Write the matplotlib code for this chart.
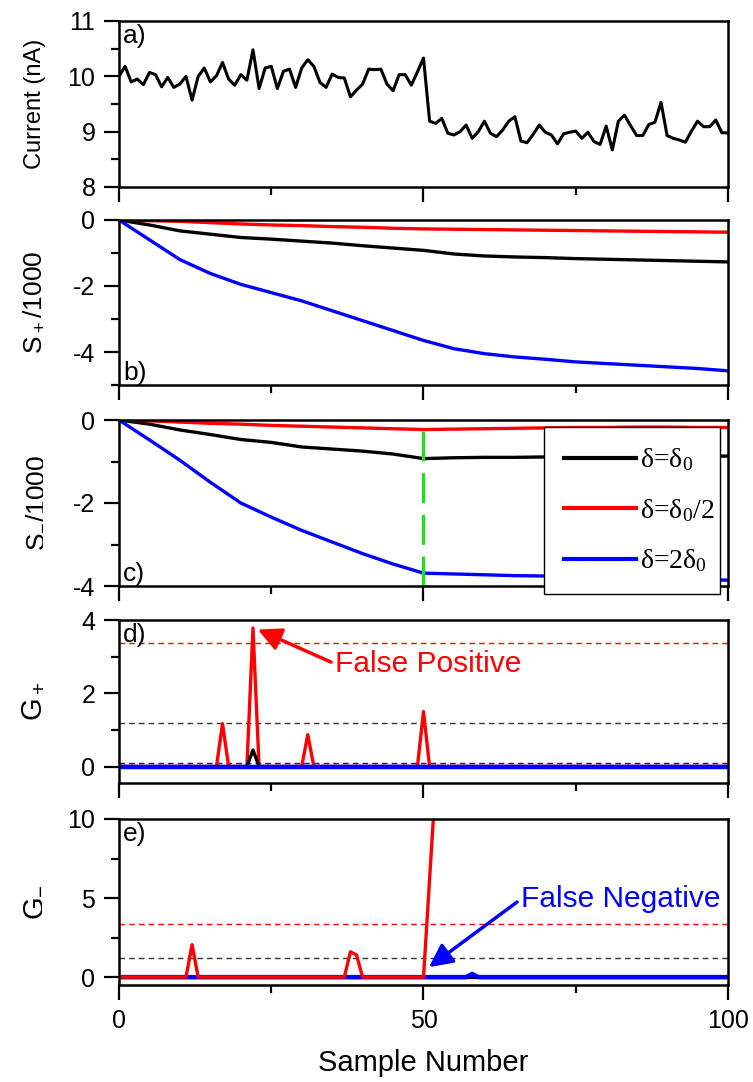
import matplotlib
matplotlib.use("Agg")
import matplotlib.pyplot as plt
from matplotlib.ticker import MultipleLocator

plt.rcParams['font.family'] = ['Liberation Sans', 'DejaVu Sans']
plt.rcParams['mathtext.default'] = 'regular'
plt.rcParams['axes.unicode_minus'] = False

# ---------------- data ----------------
samples = list(range(101))
current_nA = [
    10.0, 10.18, 9.9, 9.95, 9.85, 10.07, 10.03, 9.81, 9.98, 9.8,
    9.86, 10.0, 9.57, 10.0, 10.15, 9.9, 10.01, 10.25, 9.95, 9.84,
    10.03, 9.93, 10.48, 9.78, 10.15, 10.18, 9.78, 10.09, 10.13, 9.8,
    10.15, 10.3, 10.18, 9.89, 9.8, 10.04, 9.98, 9.97, 9.63, 9.75,
    9.86, 10.13, 10.12, 10.13, 9.86, 9.74, 10.03, 10.03, 9.84, 10.08,
    10.33, 9.19, 9.15, 9.24, 8.97, 8.94, 9.0, 9.12, 8.88, 9.0,
    9.19, 8.97, 8.91, 9.03, 9.19, 9.27, 8.83, 8.8, 8.95, 9.12,
    8.99, 8.94, 8.78, 8.96, 8.99, 9.01, 8.88, 8.99, 8.82, 8.77,
    9.1, 8.67, 9.19, 9.3, 9.11, 8.93, 8.93, 9.13, 9.17, 9.53,
    8.93, 8.88, 8.85, 8.81, 9.01, 9.19, 9.09, 9.09, 9.21, 8.98,
    8.98,
]

coarse_x = list(range(0, 101, 5))

# S+ / 1000
s_plus_d0 = [0, -0.15, -0.33, -0.43, -0.53, -0.58, -0.64, -0.70, -0.78, -0.85, -0.92,
             -1.03, -1.09, -1.12, -1.14, -1.17, -1.19, -1.21, -1.23, -1.25, -1.27]
s_plus_half = [0, -0.02, -0.04, -0.08, -0.12, -0.15, -0.17, -0.20, -0.22, -0.25, -0.27,
               -0.28, -0.29, -0.30, -0.31, -0.32, -0.33, -0.34, -0.35, -0.36, -0.37]
s_plus_2d0 = [0, -0.60, -1.20, -1.62, -1.95, -2.20, -2.45, -2.75, -3.05, -3.35, -3.65,
              -3.90, -4.05, -4.15, -4.22, -4.30, -4.35, -4.40, -4.45, -4.50, -4.57]

# S- / 1000
s_minus_d0 = [0, -0.10, -0.24, -0.35, -0.47, -0.54, -0.65, -0.70, -0.75, -0.82, -0.93,
              -0.91, -0.90, -0.90, -0.89, -0.89, -0.88, -0.88, -0.88, -0.87, -0.87]
s_minus_half = [0, -0.02, -0.05, -0.08, -0.10, -0.13, -0.15, -0.17, -0.19, -0.21, -0.23,
                -0.22, -0.21, -0.20, -0.19, -0.18, -0.18, -0.17, -0.17, -0.18, -0.18]
s_minus_2d0 = [0, -0.48, -0.97, -1.50, -2.00, -2.34, -2.66, -2.94, -3.22, -3.47, -3.69,
               -3.71, -3.73, -3.75, -3.76, -3.78, -3.79, -3.80, -3.82, -3.84, -3.86]

# G+
gp_half_x = [0, 16, 17, 18, 21, 22, 23, 30, 31, 32, 49, 50, 51, 100]
gp_half_y = [0, 0, 1.17, 0, 0, 3.78, 0, 0, 0.87, 0, 0, 1.5, 0, 0]
gp_d0_x = [0, 21, 22, 23, 100]
gp_d0_y = [0, 0, 0.45, 0, 0]
gp_2d0_x = [0, 100]
gp_2d0_y = [0, 0]

# G-
gm_half_x = [0, 11, 12, 13, 37, 38, 39, 40, 50, 51, 52, 53]
gm_half_y = [0, 0, 2.05, 0, 0, 1.6, 1.4, 0, 0, 6.2, 12.4, 18.6]
gm_d0_x = [0, 100]
gm_d0_y = [0, 0]
gm_2d0_x = [0, 57, 58, 59, 100]
gm_2d0_y = [0, 0, 0.2, 0, 0]

# decision thresholds
h_d0 = 1.18
h_half = 3.38
h_2d0 = 0.09

change_point = 50
legend_labels = ['δ=δ$_0$', 'δ=δ$_0$/2', 'δ=2δ$_0$']

BLACK, RED, BLUE = '#000000', '#ff0000', '#0000ff'

# ---------------- layout ----------------
W, H = 753, 1082
fig = plt.figure(figsize=(W / 100, H / 100), dpi=100)

def add_panel(top_px, bottom_px):
    left, right = 119, 728
    return fig.add_axes([left / W, 1 - bottom_px / H, (right - left) / W,
                         (bottom_px - top_px) / H])

ax_a = add_panel(21, 187)
ax_b = add_panel(220, 385)
ax_c = add_panel(420, 586)
ax_d = add_panel(620, 783)
ax_e = add_panel(819, 985)
axes = [ax_a, ax_b, ax_c, ax_d, ax_e]

TICK_FS = 18
LABEL_FS = 19
TAG_FS = 19
for ax in axes:
    ax.set_xlim(0, 100)
    ax.xaxis.set_major_locator(MultipleLocator(50))
    ax.xaxis.set_minor_locator(MultipleLocator(25))
    ax.tick_params(which='both', direction='out', top=False, right=False,
                   width=1.6, labelsize=TICK_FS, pad=6)
    ax.tick_params(which='major', length=11)
    ax.tick_params(which='minor', length=6)
    for sp in ax.spines.values():
        sp.set_linewidth(1.8)
    if ax is not ax_e:
        ax.tick_params(axis='x', labelbottom=False)
    ax.yaxis.set_label_coords(-0.12, 0.5)

# a) current trace
ax_a.plot(samples, current_nA, color=BLACK, lw=2.2)
ax_a.set_ylim(8, 11)
ax_a.yaxis.set_major_locator(MultipleLocator(1))
ax_a.yaxis.set_minor_locator(MultipleLocator(0.5))
ax_a.set_ylabel('Current (nA)', fontsize=17)

# b) S+
ax_b.plot(coarse_x, s_plus_d0, color=BLACK, lw=2.4)
ax_b.plot(coarse_x, s_plus_half, color=RED, lw=2.4)
ax_b.plot(coarse_x, s_plus_2d0, color=BLUE, lw=2.4)
ax_b.set_ylim(-5, 0)
ax_b.yaxis.set_major_locator(MultipleLocator(2))
ax_b.yaxis.set_minor_locator(MultipleLocator(1))
ax_b.set_ylabel(r'$S_+$/1000', fontsize=LABEL_FS)

# c) S-
l1, = ax_c.plot(coarse_x, s_minus_d0, color=BLACK, lw=2.4)
l2, = ax_c.plot(coarse_x, s_minus_half, color=RED, lw=2.4)
l3, = ax_c.plot(coarse_x, s_minus_2d0, color=BLUE, lw=2.4)
ax_c.axvline(change_point, color='#22dd22', lw=2.4, ls=(0, (9, 3.5)))
ax_c.set_ylim(-4, 0)
ax_c.yaxis.set_major_locator(MultipleLocator(2))
ax_c.yaxis.set_minor_locator(MultipleLocator(1))
ax_c.set_ylabel(r'$S_{-}$/1000', fontsize=LABEL_FS)
leg = ax_c.legend([l1, l2, l3], legend_labels, loc='upper left',
                  bbox_to_anchor=(0.698, 0.06, 0.289, 0.898), mode='expand',
                  borderaxespad=0, fancybox=False, frameon=True, framealpha=1,
                  edgecolor='black', handlelength=2.6, handletextpad=0.15,
                  labelspacing=0.85, borderpad=0.7,
                  prop={'family': 'Liberation Serif', 'size': 20})
leg.get_frame().set_linewidth(1.0)
for h in leg.get_lines():
    h.set_linewidth(3)

arrow_style = '-|>,head_length=0.7,head_width=0.35'

# d) G+
ax_d.axhline(h_half, color=RED, lw=1.0, ls=(0, (4, 3)))
ax_d.axhline(h_d0, color='#333333', lw=1.0, ls=(0, (4, 3)))
ax_d.axhline(h_2d0, color=BLUE, lw=1.0, ls=(0, (4, 3)))
ax_d.plot(gp_half_x, gp_half_y, color=RED, lw=2.4)
ax_d.plot(gp_d0_x, gp_d0_y, color=BLACK, lw=2.4)
ax_d.plot(gp_2d0_x, gp_2d0_y, color=BLUE, lw=3.2)
ax_d.set_ylim(-0.45, 4)
ax_d.yaxis.set_major_locator(MultipleLocator(2))
ax_d.yaxis.set_minor_locator(MultipleLocator(1))
ax_d.set_ylabel(r'$G_+$', fontsize=21)
ax_d.annotate('False Positive', xy=(22.8, 3.74), xytext=(35.5, 2.8),
              color=RED, fontsize=21.5, ha='left', va='center',
              arrowprops=dict(arrowstyle=arrow_style, color=RED, lw=2.5,
                              mutation_scale=20, relpos=(0, 0.5),
                              shrinkA=1, shrinkB=0))

# e) G-
ax_e.axhline(h_half, color=RED, lw=1.0, ls=(0, (4, 3)))
ax_e.axhline(h_d0, color='#333333', lw=1.0, ls=(0, (4, 3)))
ax_e.axhline(h_2d0, color=BLUE, lw=1.0, ls=(0, (4, 3)))
ax_e.plot(gm_d0_x, gm_d0_y, color=BLACK, lw=2.4)
ax_e.plot(gm_2d0_x, gm_2d0_y, color=BLUE, lw=3.2)
ax_e.plot(gm_half_x, gm_half_y, color=RED, lw=2.4)
ax_e.set_ylim(-0.5, 10)
ax_e.yaxis.set_major_locator(MultipleLocator(5))
ax_e.yaxis.set_minor_locator(MultipleLocator(2.5))
ax_e.set_ylabel(r'$G_{-}$', fontsize=21)
ax_e.set_xlabel('Sample Number', fontsize=21, labelpad=12)
ax_e.annotate('False Negative', xy=(50.9, 0.63), xytext=(66, 4.93),
              color=BLUE, fontsize=21.5, ha='left', va='center',
              arrowprops=dict(arrowstyle=arrow_style, color=BLUE, lw=2.5,
                              mutation_scale=20, relpos=(0, 0.5),
                              shrinkA=1, shrinkB=0))

# panel tags
ax_a.text(0.007, 0.98, 'a)', transform=ax_a.transAxes, fontsize=TAG_FS, va='top', ha='left')
ax_b.text(0.007, 0.0, 'b)', transform=ax_b.transAxes, fontsize=TAG_FS, va='bottom', ha='left')
ax_c.text(0.007, 0.0, 'c)', transform=ax_c.transAxes, fontsize=TAG_FS, va='bottom', ha='left')
ax_d.text(0.007, 0.98, 'd)', transform=ax_d.transAxes, fontsize=TAG_FS, va='top', ha='left')
ax_e.text(0.007, 0.98, 'e)', transform=ax_e.transAxes, fontsize=TAG_FS, va='top', ha='left')

fig.savefig('out.png', dpi=100)
